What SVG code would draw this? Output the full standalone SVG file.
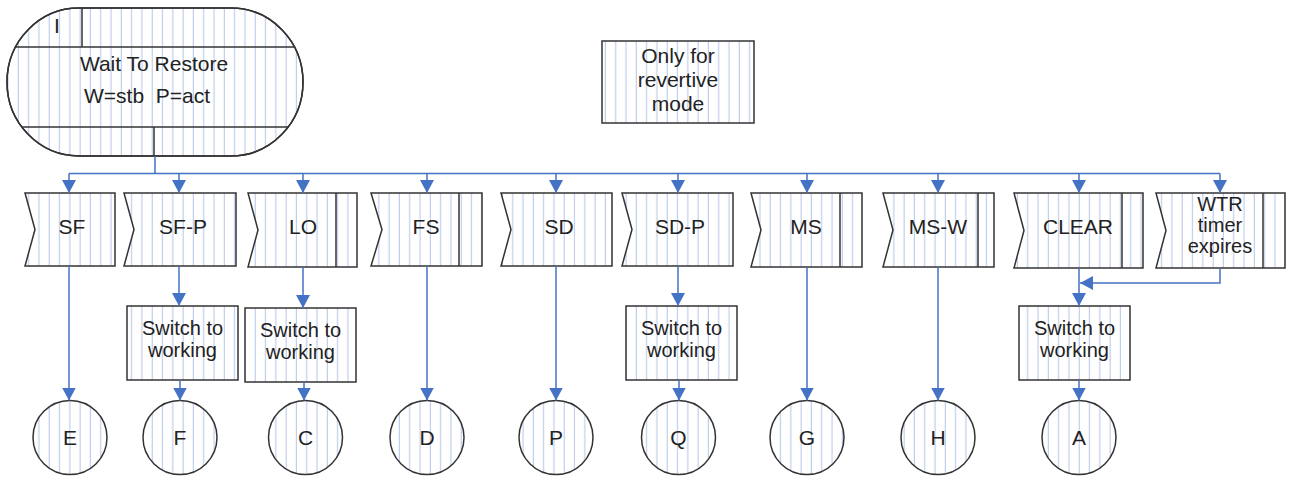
<svg xmlns="http://www.w3.org/2000/svg" width="1293" height="477" viewBox="0 0 1293 477">
<defs>
<pattern id="h" patternUnits="userSpaceOnUse" width="10.3" height="20" x="3">
<rect width="10.3" height="20" fill="#ffffff"/>
<line x1="5" y1="0" x2="5" y2="20" stroke="#b3c6e8" stroke-width="1"/>
</pattern>
<marker id="a" markerUnits="userSpaceOnUse" markerWidth="14" markerHeight="14" refX="13" refY="7" orient="auto">
<path d="M0,0 L13,7 L0,14 Z" fill="#4472c4"/>
</marker>
<clipPath id="stClip"><rect x="7" y="8" width="296" height="148" rx="72" ry="74"/></clipPath>
</defs>
<style>
.sh{fill:url(#h);stroke:#333;stroke-width:1.5}
.ln{fill:none;stroke:#333;stroke-width:1.5}
.t{font-family:"Liberation Sans",Arial,sans-serif;font-size:21px;fill:#222;text-anchor:middle}
.m{font-size:20px}
.c{fill:none;stroke:#4472c4;stroke-width:1.5}
.ca{fill:none;stroke:#4472c4;stroke-width:1.5;marker-end:url(#a)}
</style>

<g id="state-wtr">
<rect class="sh" x="7" y="8" width="296" height="148" rx="72" ry="74"/>
<g clip-path="url(#stClip)">
<line class="ln" x1="0" y1="47" x2="300" y2="47"/>
<line class="ln" x1="0" y1="127" x2="300" y2="127"/>
<line class="ln" x1="82" y1="8" x2="82" y2="47"/>
<line class="ln" x1="154" y1="127" x2="154" y2="156"/>
</g>
<rect x="7" y="8" width="296" height="148" rx="72" ry="74" fill="none" stroke="#333" stroke-width="1.5"/>
<text class="t" x="57" y="33">I</text>
<text class="t" x="154" y="71">Wait To Restore</text>
<text class="t" x="147" y="103">W=stb&#160; P=act</text>
</g>

<g id="note-revertive">
<rect class="sh" x="602" y="41" width="152" height="82"/>
<text class="t" x="678" y="63"><tspan x="678">Only for</tspan><tspan x="678" dy="24">revertive</tspan><tspan x="678" dy="24">mode</tspan></text>
</g>

<g id="sig-sf">
<path class="sh" d="M25,193 H115 V266 H25 L35,229.5 Z"/>
<text class="t" x="72" y="234">SF</text>
</g>
<g id="sig-sfp">
<path class="sh" d="M124,193 H236 V266 H124 L134,229.5 Z"/>
<text class="t" x="183" y="234">SF-P</text>
</g>
<g id="sig-lo">
<path class="sh" d="M248,193 H357 V267 H248 L258,230 Z"/>
<line class="ln" x1="336" y1="193" x2="336" y2="267"/>
<text class="t" x="303" y="234">LO</text>
</g>
<g id="sig-fs">
<path class="sh" d="M371,193 H482 V266 H371 L382,229.5 Z"/>
<line class="ln" x1="459" y1="193" x2="459" y2="266"/>
<text class="t" x="426" y="234">FS</text>
</g>
<g id="sig-sd">
<path class="sh" d="M501,193 H612 V266 H501 L511,229.5 Z"/>
<text class="t" x="559" y="234">SD</text>
</g>
<g id="sig-sdp">
<path class="sh" d="M622,193 H733 V266 H622 L632,229.5 Z"/>
<text class="t" x="680" y="234">SD-P</text>
</g>
<g id="sig-ms">
<path class="sh" d="M751,193 H862 V267 H751 L761,230 Z"/>
<line class="ln" x1="840" y1="193" x2="840" y2="267"/>
<text class="t" x="806" y="234">MS</text>
</g>
<g id="sig-msw">
<path class="sh" d="M883,193 H994 V267 H883 L893,230 Z"/>
<line class="ln" x1="978" y1="193" x2="978" y2="267"/>
<text class="t" x="938" y="234">MS-W</text>
</g>
<g id="sig-clear">
<path class="sh" d="M1014,193 H1143 V268 H1014 L1024,230.5 Z"/>
<line class="ln" x1="1122" y1="193" x2="1122" y2="268"/>
<text class="t" x="1078" y="234">CLEAR</text>
</g>
<g id="sig-wtr">
<path class="sh" d="M1156,193 H1285 V268 H1156 L1166,230.5 Z"/>
<line class="ln" x1="1263" y1="193" x2="1263" y2="268"/>
<text class="t m" x="1220" y="211"><tspan x="1220">WTR</tspan><tspan x="1220" dy="21">timer</tspan><tspan x="1220" dy="21">expires</tspan></text>
</g>

<g id="act-sw1">
<rect class="sh" x="127" y="306" width="111" height="74"/>
<text class="t m" x="182.5" y="335"><tspan x="182.5">Switch to</tspan><tspan x="182.5" dy="22">working</tspan></text>
</g>
<g id="act-sw2">
<rect class="sh" x="245" y="308" width="111" height="74"/>
<text class="t m" x="300.5" y="337"><tspan x="300.5">Switch to</tspan><tspan x="300.5" dy="22">working</tspan></text>
</g>
<g id="act-sw3">
<rect class="sh" x="626" y="306" width="111" height="74"/>
<text class="t m" x="681.5" y="335"><tspan x="681.5">Switch to</tspan><tspan x="681.5" dy="22">working</tspan></text>
</g>
<g id="act-sw4">
<rect class="sh" x="1019" y="306" width="111" height="74"/>
<text class="t m" x="1074.5" y="335"><tspan x="1074.5">Switch to</tspan><tspan x="1074.5" dy="22">working</tspan></text>
</g>

<g id="st-e"><circle class="sh" cx="70" cy="437.5" r="37"/><text class="t" x="70" y="445">E</text></g>
<g id="st-f"><circle class="sh" cx="180" cy="437.5" r="37"/><text class="t" x="180" y="445">F</text></g>
<g id="st-c"><circle class="sh" cx="305.5" cy="437.5" r="37"/><text class="t" x="305.5" y="445">C</text></g>
<g id="st-d"><circle class="sh" cx="427" cy="437.5" r="37"/><text class="t" x="427" y="445">D</text></g>
<g id="st-p"><circle class="sh" cx="556" cy="437.5" r="37"/><text class="t" x="556" y="445">P</text></g>
<g id="st-q"><circle class="sh" cx="678.5" cy="437.5" r="37"/><text class="t" x="678.5" y="445">Q</text></g>
<g id="st-g"><circle class="sh" cx="807" cy="437.5" r="37"/><text class="t" x="807" y="445">G</text></g>
<g id="st-h"><circle class="sh" cx="938" cy="437.5" r="37"/><text class="t" x="938" y="445">H</text></g>
<g id="st-a"><circle class="sh" cx="1079" cy="437.5" r="37"/><text class="t" x="1079" y="445">A</text></g>

<g id="connectors">
<path class="c" d="M155,156 V173.5 M69,173.5 H1220"/>
<path class="ca" d="M69,173.5 V193"/>
<path class="ca" d="M179,173.5 V193"/>
<path class="ca" d="M303,173.5 V193"/>
<path class="ca" d="M427,173.5 V193"/>
<path class="ca" d="M556,173.5 V193"/>
<path class="ca" d="M678,173.5 V193"/>
<path class="ca" d="M807,173.5 V193"/>
<path class="ca" d="M938,173.5 V193"/>
<path class="ca" d="M1079,173.5 V193"/>
<path class="ca" d="M1220,173.5 V193"/>
<path class="ca" d="M69,266 V400.5"/>
<path class="ca" d="M179,266 V306"/>
<path class="ca" d="M180,380 V400.5"/>
<path class="ca" d="M303,267 V308"/>
<path class="ca" d="M304,382 V400.5"/>
<path class="ca" d="M427,266 V400.5"/>
<path class="ca" d="M556,266 V400.5"/>
<path class="ca" d="M678,266 V306"/>
<path class="ca" d="M679,380 V400.5"/>
<path class="ca" d="M807,267 V400.5"/>
<path class="ca" d="M938,267 V400.5"/>
<path class="ca" d="M1079,268 V306"/>
<path class="ca" d="M1220,268 V283 H1080"/>
<path class="ca" d="M1079,380 V400.5"/>
</g>
</svg>
